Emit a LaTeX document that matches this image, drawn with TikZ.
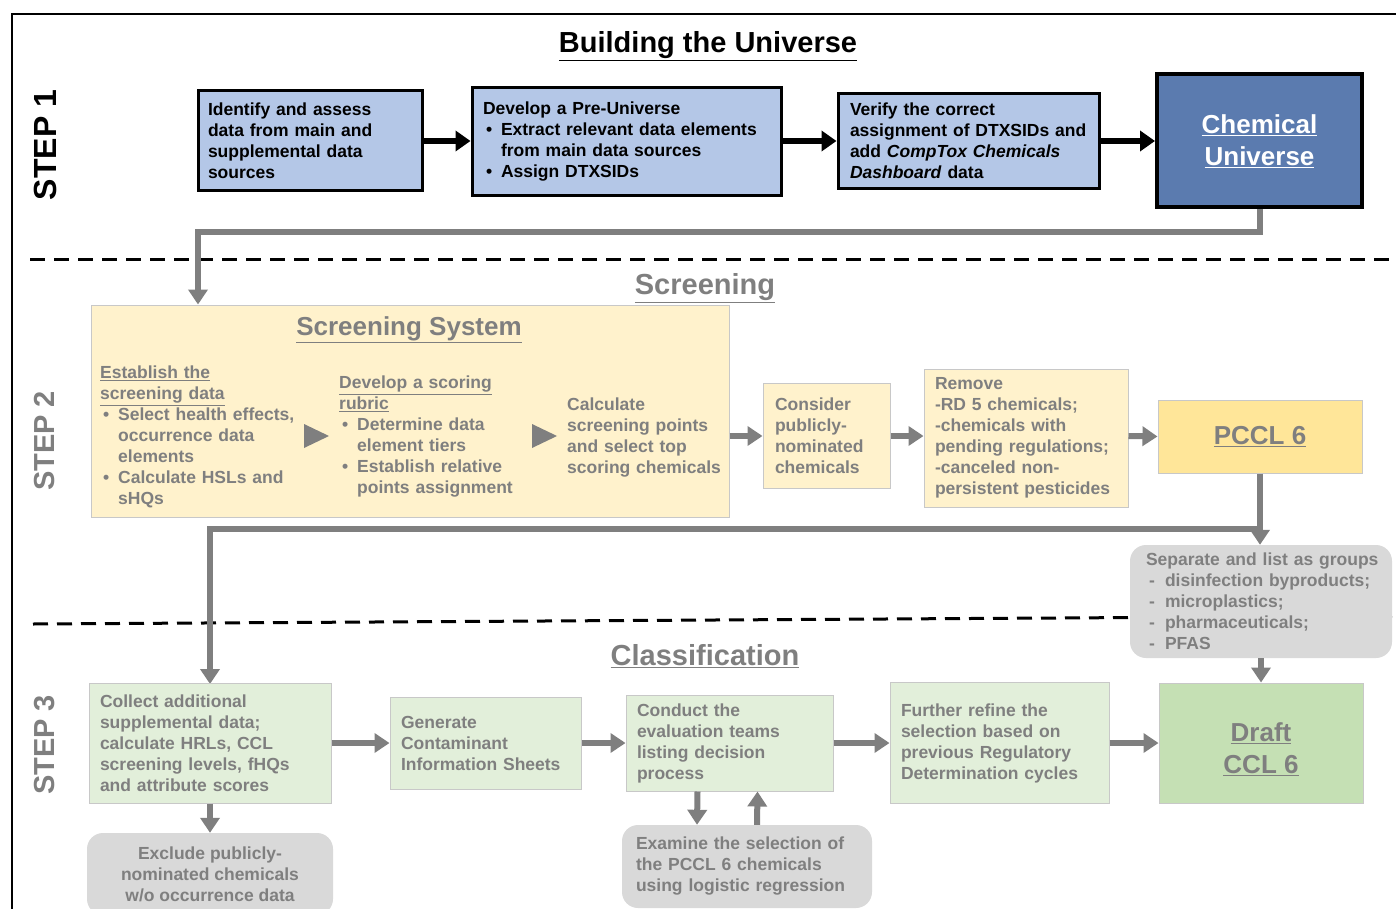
\documentclass[tikz,border=0pt]{standalone}
\usepackage{fontspec}
\setmainfont{Liberation Sans}
\usetikzlibrary{arrows.meta}
\definecolor{boxblue}{HTML}{B4C7E7}
\definecolor{uniblue}{HTML}{5B7BAF}
\definecolor{scrfill}{HTML}{FFF2CC}
\definecolor{pcclfill}{HTML}{FFE699}
\definecolor{clsfill}{HTML}{E2EFDA}
\definecolor{draftfill}{HTML}{C5E0B4}
\definecolor{exfill}{HTML}{D9D9D9}
\definecolor{txtgray}{HTML}{7F7F7F}
\definecolor{edgegray}{HTML}{C8C8C8}
\newcommand{\bodyfont}{\fontsize{17.5}{21}\selectfont\bfseries}
\newcommand{\bitem}{\makebox[18pt][l]{\hspace{3pt}\textbullet}}
\newcommand{\bcont}{\hspace*{18pt}}
\newcommand{\ditem}{\makebox[19pt][l]{\hspace{3pt}-}}
\begin{document}
\begin{tikzpicture}[x=1pt,y=-1pt,
  body/.style={font=\bodyfont,align=left,inner ysep=2pt},
  bluebox/.style={body,draw=black,line width=3pt,fill=boxblue},
  scrbox/.style={body,draw=edgegray,line width=1pt,fill=scrfill,text=txtgray},
  clsbox/.style={body,draw=edgegray,line width=1pt,fill=clsfill,text=txtgray},
  greybox/.style={body,fill=exfill,rounded corners=16pt,text=txtgray},
  head/.style={font=\fontsize{29}{34}\selectfont\bfseries,text=txtgray},
  bighead/.style={font=\fontsize{26}{32}\selectfont\bfseries,align=center},
  steplab/.style={font=\fontsize{29}{34}\selectfont\bfseries,text=txtgray,rotate=90},
  bar/.style={line width=6pt,-{Triangle[width=20pt,length=15pt]}},
  gar/.style={draw=txtgray,line width=6pt,-{Triangle[width=19pt,length=15pt]}},
  divider/.style={line width=3pt,dash pattern=on 15pt off 9pt}]
\useasboundingbox (0,0) rectangle (1396,909);
%\draw[help lines, color=gray!30] (0,0) grid[step=50] (1396,909);
\draw[line width=2pt] (12,930) -- (12,14) -- (1420,14);
\draw[divider] (30,259) -- (1396,259);
\draw[divider] (33,624) -- (1396,616);

% step 1
\node[font=\fontsize{29}{34}\selectfont\bfseries] (title) at (708,46) {\underline{Building the Universe}};
\node[steplab,text=black,font=\fontsize{32}{36}\selectfont\bfseries] (step1) at (45,145) {STEP 1};
\node[bluebox,minimum width=224pt,minimum height=100pt,inner xsep=10pt,text width=204pt] (ident) at (310,141)
  {Identify and assess\\data from main and\\supplemental data\\sources};
\node[bluebox,minimum width=309pt,minimum height=108pt,inner xsep=11pt,text width=287pt] (preu) at (626.5,142)
  {Develop a Pre-Universe\\\bitem Extract relevant data elements\\\bcont from main data sources\\\bitem Assign DTXSIDs};
\node[bluebox,minimum width=261pt,minimum height=95pt,inner xsep=12pt,text width=237pt] (verif) at (968.5,141)
  {Verify the correct\\assignment of DTXSIDs and\\add \textit{CompTox Chemicals}\\\textit{Dashboard} data};
\node[bighead,draw=black,line width=4pt,fill=uniblue,text=white,minimum width=205pt,minimum height=133pt] (univ) at (1259.5,141)
  {\underline{Chemical}\\\underline{Universe}};
\draw[bar] (ident.east) -- (ident.east -| preu.west);
\draw[bar] (preu.east |- ident.east) -- (verif.west);
\draw[bar] (verif.east) -- (univ.west);

% step 2
\node[head] (scrhead) at (705,288) {\underline{Screening}};
\node[steplab] (step2) at (45,441) {STEP 2};
\node[scrbox,minimum width=638pt,minimum height=212pt] (ss) at (410,411) {};
\node[head,font=\fontsize{26}{32}\selectfont\bfseries] (sshead) at (409,330) {\underline{Screening System}};
\node[body,text=txtgray,anchor=west,inner sep=0pt,text width=200pt] (estab) at (100,437)
  {\underline{Establish the}\\\underline{screening data}\\\bitem Select health effects,\\\bcont occurrence data\\\bcont elements\\\bitem Calculate HSLs and\\\bcont sHQs};
\node[body,text=txtgray,anchor=west,inner sep=0pt,text width=180pt] (rubric) at (339,437)
  {\underline{Develop a scoring}\\\underline{rubric}\\\bitem Determine data\\\bcont element tiers\\\bitem Establish relative\\\bcont points assignment};
\node[body,text=txtgray,anchor=west,inner sep=0pt,text width=160pt] (calc) at (567,438)
  {Calculate\\screening points\\and select top\\scoring chemicals};
\fill[txtgray] (304,424) -- (329,436) -- (304,448) -- cycle;
\fill[txtgray] (532,424) -- (557,436) -- (532,448) -- cycle;
\node[scrbox,minimum width=127pt,minimum height=105pt,inner xsep=12pt,text width=103pt] (cons) at (826.5,436)
  {Consider\\publicly-\\nominated\\chemicals};
\node[scrbox,minimum width=204pt,minimum height=138pt,inner xsep=11pt,text width=182pt] (remv) at (1026,438)
  {Remove\\-RD 5 chemicals;\\-chemicals with\\pending regulations;\\-canceled non-\\persistent pesticides};
\node[bighead,draw=edgegray,line width=1pt,fill=pcclfill,text=txtgray,minimum width=204pt,minimum height=73pt] (pccl) at (1260,436.5)
  {\underline{PCCL 6}};
\draw[gar] (ss.east |- cons.west) -- (cons.west);
\draw[gar] (cons.east) -- (cons.east -| remv.west);
\draw[gar] (remv.east |- cons.east) -- (pccl.west);
\coordinate (j1) at (198,232);
\draw[gar] (univ.south) |- (j1) -- (j1 |- ss.north);

% step 3
\node[greybox,minimum width=262pt,minimum height=113pt,inner xsep=16pt,text width=230pt] (sep) at (1261,601.5)
  {\mbox{Separate and list as groups}\\\ditem disinfection byproducts;\\\ditem microplastics;\\\ditem pharmaceuticals;\\\ditem PFAS};
\coordinate (j2) at (1260,529);
\draw[gar] (pccl.south) -- (pccl.south |- sep.north);
\draw[gar] (j2) -| (210,684);
\node[head] (clshead) at (705,656) {\underline{Classification}};
\node[steplab] (step3) at (45,745) {STEP 3};
\node[clsbox,minimum width=242pt,minimum height=120pt,inner xsep=11pt,text width=220pt] (coll) at (210,743)
  {Collect additional\\supplemental data;\\calculate HRLs, CCL\\screening levels, fHQs\\and attribute scores};
\node[clsbox,minimum width=191pt,minimum height=92pt,inner xsep=11pt,text width=169pt] (gen) at (485.5,743)
  {Generate\\Contaminant\\Information Sheets};
\node[clsbox,minimum width=207pt,minimum height=96pt,inner xsep=11pt,text width=185pt] (cond) at (729.5,743)
  {Conduct the\\evaluation teams\\listing decision\\process};
\node[clsbox,minimum width=219pt,minimum height=121pt,inner xsep=11pt,text width=197pt] (furth) at (999.5,743)
  {Further refine the\\selection based on\\previous Regulatory\\Determination cycles};
\node[draw=edgegray,line width=1pt,fill=draftfill,minimum width=204pt,minimum height=120pt] (draft) at (1261,743) {};
\node[bighead,text=txtgray] (drafttxt) at (1261,749) {\underline{Draft}\\\underline{CCL 6}};
\node[greybox,align=center,minimum width=246pt,minimum height=82pt] (excl) at (210,874)
  {Exclude publicly-\\nominated chemicals\\w/o occurrence data};
\node[greybox,minimum width=250pt,minimum height=83pt,inner xsep=14pt,text width=222pt] (exam) at (747,866.5)
  {Examine the selection of\\the PCCL 6 chemicals\\using logistic regression};
\draw[gar] (sep.south) -- (draft.north);
\draw[gar] (coll.east) -- (gen.west);
\draw[gar] (gen.east) -- (cond.west);
\draw[gar] (cond.east) -- (furth.west);
\draw[gar] (furth.east) -- (draft.west);
\draw[gar] (coll.south) -- (excl.north);
\draw[gar] ([xshift=-32pt]cond.south) -- ([xshift=-50pt]exam.north);
\draw[gar] ([xshift=10pt]exam.north) -- ([xshift=28pt]cond.south);
\end{tikzpicture}
\end{document}
